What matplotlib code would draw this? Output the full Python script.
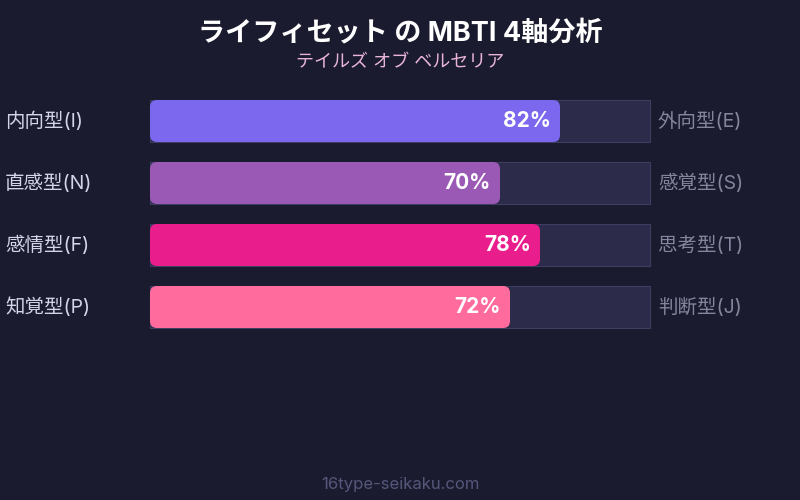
import matplotlib
matplotlib.use("Agg")
import matplotlib.pyplot as plt
from matplotlib.patches import FancyBboxPatch, Rectangle

plt.rcParams['font.family'] = ['Inter', 'Noto Sans CJK JP', 'DejaVu Sans']

TITLE = "ライフィセット の MBTI 4軸分析"
SUBTITLE = "テイルズ オブ ベルセリア"
FOOTER = "16type-seikaku.com"

left_labels = ["内向型(I)", "直感型(N)", "感情型(F)", "知覚型(P)"]
right_labels = ["外向型(E)", "感覚型(S)", "思考型(T)", "判断型(J)"]
values = [82, 70, 78, 72]
colors = ["#7b68ee", "#9b59b6", "#e91e8c", "#ff6b9d"]

BG = "#1a1b2e"
TRACK = "#2c2b4a"
TRACK_EDGE = "#3e3d62"

fig = plt.figure(figsize=(8, 5), dpi=100, facecolor=BG)
ax = fig.add_axes([0, 0, 1, 1])
ax.set_xlim(0, 800)
ax.set_ylim(500, 0)
ax.axis("off")
ax.set_facecolor(BG)

x0, width = 150, 500
bar_h = 42
top0, step = 100, 62

for i, (ll, rl, v, c) in enumerate(zip(left_labels, right_labels, values, colors)):
    y = top0 + i * step
    ax.add_patch(Rectangle((x0, y), width, bar_h, facecolor=TRACK,
                           edgecolor=TRACK_EDGE, linewidth=0.8))
    w = width * v / 100
    ax.add_patch(FancyBboxPatch((x0, y), w, bar_h,
                                boxstyle="round,pad=0,rounding_size=7",
                                facecolor=c, edgecolor="none"))
    yc = y + bar_h / 2
    ax.text(x0 + w - 9, yc, f"{v}%", ha="right", va="center",
            color="white", fontsize=15, fontweight="bold")
    ax.text(5, yc, ll, ha="left", va="center", color="#d4d4ea", fontsize=14)
    ax.text(658, yc, rl, ha="left", va="center", color="#85859e", fontsize=14)

ax.text(400, 33, TITLE, ha="center", va="center", color="white",
        fontsize=19.5, fontweight="bold")
ax.text(400, 63, SUBTITLE, ha="center", va="center", color="#e8b4d8",
        fontsize=13)
ax.text(400, 484, FOOTER, ha="center", va="center", color="#56577a",
        fontsize=12)

fig.savefig("out.png", dpi=100, facecolor=BG)
